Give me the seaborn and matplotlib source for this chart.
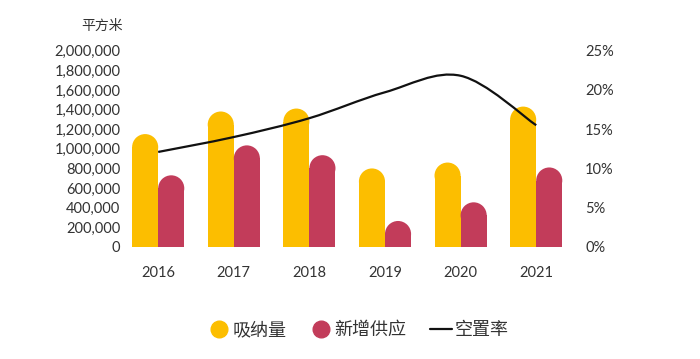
import numpy as np
import pandas as pd
import matplotlib
matplotlib.use("Agg")
import matplotlib.pyplot as plt
import seaborn as sns
from matplotlib.patches import Ellipse, PathPatch
from matplotlib.path import Path
from matplotlib.lines import Line2D

# Data
years = ["2016", "2017", "2018", "2019", "2020", "2021"]
absorption = [1150000, 1380000, 1410000, 800000, 860000, 1430000]
new_supply = [730000, 1035000, 935000, 265000, 455000, 810000]
vacancy = [12.1, 14.0, 16.4, 19.7, 21.8, 15.5]
left_ticks = [0, 200000, 400000, 600000, 800000, 1000000, 1200000,
              1400000, 1600000, 1800000, 2000000]
right_ticks = [0, 5, 10, 15, 20, 25]

YELLOW = "#FCBE00"
RED = "#C23C5A"
TEXT = "#333333"

sns.set_style("white")
plt.rcParams['font.family'] = ['Lato', 'Noto Sans CJK SC', 'DejaVu Sans']
CJK = ['Noto Sans CJK SC', 'DejaVu Sans']

df = pd.DataFrame({
    "year": years * 2,
    "value": absorption + new_supply,
    "kind": ["吸纳量"] * 6 + ["新增供应"] * 6,
})

fig = plt.figure(figsize=(7, 3.59), dpi=100)
ax = fig.add_axes([0.172, 0.312, 0.648, 0.547])
sns.barplot(data=df, x="year", y="value", hue="kind", hue_order=["吸纳量", "新增供应"],
            palette=[YELLOW, RED], width=0.69, legend=False, ax=ax, saturation=1)
ax.set_xlim(-0.5, 5.5)
ax.set_ylim(0, 2000000)

# round the bar tops: cap radius in data units
fig.canvas.draw()
bbox = ax.get_window_extent()
bar_w = ax.patches[0].get_width()
r_px = bar_w / 6 * bbox.width / 2
r_data = r_px / bbox.height * 2000000
for p in list(ax.patches):
    x, w, h = p.get_x(), p.get_width(), p.get_height()
    p.set_height(max(h - r_data, 0))
    p.set_linewidth(0)
    ax.add_patch(Ellipse((x + w / 2, h - r_data), w, 2 * r_data,
                         facecolor=p.get_facecolor(), linewidth=0))

ax.set_yticks(left_ticks)
ax.set_yticklabels([f"{v:,}" for v in left_ticks])
ax.set_xlabel("")
ax.set_ylabel("")
ax.tick_params(axis="both", length=0, labelsize=10.5, colors=TEXT)
ax.tick_params(axis="x", pad=14)
ax.tick_params(axis="y", pad=0)
for s in ax.spines.values():
    s.set_visible(False)
fig.text(123 / 700, 1 - 26 / 359, "平方米", ha="right", va="center",
         fontsize=10, color=TEXT, family=CJK)

# vacancy line on right axis, smoothed with Catmull-Rom bezier
ax2 = ax.twinx()
ax2.set_ylim(0, 25)
xs = np.arange(len(vacancy), dtype=float)
ys = np.array(vacancy, dtype=float)
verts = [(xs[0], ys[0])]
codes = [Path.MOVETO]
for i in range(len(xs) - 1):
    x0, y0 = (xs[i - 1], ys[i - 1]) if i > 0 else (xs[i], ys[i])
    x1, y1 = xs[i], ys[i]
    x2, y2 = xs[i + 1], ys[i + 1]
    x3, y3 = (xs[i + 2], ys[i + 2]) if i + 2 < len(xs) else (xs[i + 1], ys[i + 1])
    verts += [(x1 + (x2 - x0) / 6, y1 + (y2 - y0) / 6),
              (x2 - (x3 - x1) / 6, y2 - (y3 - y1) / 6),
              (x2, y2)]
    codes += [Path.CURVE4] * 3
ax2.add_patch(PathPatch(Path(verts, codes), facecolor="none", edgecolor="#111111", lw=1.6))
ax2.set_yticks(right_ticks)
ax2.set_yticklabels([f"{v}%" for v in right_ticks])
ax2.tick_params(axis="y", length=0, labelsize=10.5, colors=TEXT, pad=8)
for s in ax2.spines.values():
    s.set_visible(False)
ax2.set_xlim(-0.5, 5.5)

handles = [
    Line2D([], [], ls="none", marker="o", ms=12, mfc=YELLOW, mec=YELLOW),
    Line2D([], [], ls="none", marker="o", ms=12, mfc=RED, mec=RED),
    Line2D([], [], color="#111111", lw=1.6),
]
leg = fig.legend(handles, ["吸纳量", "新增供应", "空置率"], loc="center",
                 bbox_to_anchor=(0.512, 1 - 330 / 359), ncol=3, frameon=False,
                 prop={"family": CJK, "size": 13},
                 handlelength=1.2, handletextpad=0.15, columnspacing=1.3)
for t in leg.get_texts():
    t.set_color(TEXT)

fig.savefig("out.png", dpi=100, facecolor="white")
